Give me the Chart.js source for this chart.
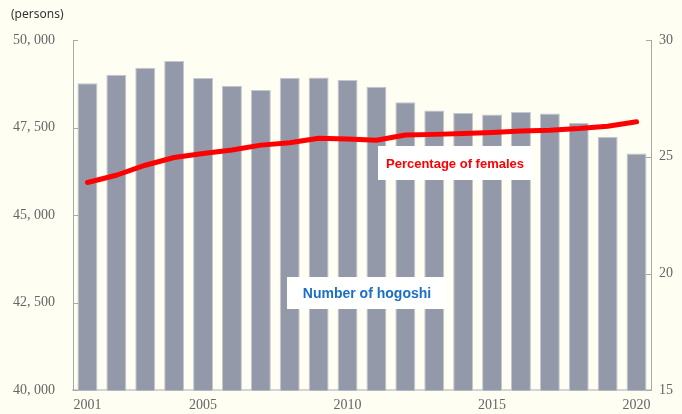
<!DOCTYPE html>
<html><head><meta charset="utf-8">
<script src="https://cdn.jsdelivr.net/npm/chart.js@4/dist/chart.umd.min.js"></script>
<style>
html,body{margin:0;padding:0;background:#fefef3;}
#wrap{position:relative;width:682px;height:414px;}
canvas{display:block;}
</style></head>
<body><div id="wrap"><canvas id="c" width="682" height="414"></canvas></div>
<script>
const years = ["2001","2002","2003","2004","2005","2006","2007","2008","2009","2010","2011","2012","2013","2014","2015","2016","2017","2018","2019","2020"];
const hogoshiCount = [48763,49009,49209,49400,48914,48695,48571,48924,48933,48857,48667,48220,47991,47914,47876,47943,47905,47638,47238,46762];
const femalePercent = [23.9,24.21,24.64,24.97,25.14,25.29,25.5,25.6,25.79,25.76,25.71,25.93,25.96,26.0,26.04,26.1,26.14,26.21,26.31,26.5];
const shownYearLabels = ["2001","2005","2010","2015","2020"];
const leftTicks = [40000,42500,45000,47500,50000];
const rightTicks = [15,20,25,30];

const tickFont = {family:"'Liberation Serif','DejaVu Serif',serif", size:14};
const yTickFont = {family:"'Liberation Serif','DejaVu Serif',serif", size:14, lineHeight:0.8};
const tickColor = "#666666";
const axisColor = "#a8a8a8";

const innerTicks = {
  id:'innerTicks',
  afterDraw(chart){
    const ctx = chart.ctx;
    const yl = chart.scales.y, yr = chart.scales.y2, ca = chart.chartArea;
    ctx.save();
    ctx.strokeStyle = axisColor; ctx.lineWidth = 1;
    leftTicks.forEach(v=>{const p=Math.round(yl.getPixelForValue(v))+0.5;ctx.beginPath();ctx.moveTo(ca.left,p);ctx.lineTo(ca.left+5,p);ctx.stroke();});
    rightTicks.forEach(v=>{const p=Math.round(yr.getPixelForValue(v))+0.5;ctx.beginPath();ctx.moveTo(ca.right-5,p);ctx.lineTo(ca.right,p);ctx.stroke();});
    ctx.fillStyle="#333";ctx.font="12px 'Noto Sans','Liberation Sans',sans-serif";ctx.textBaseline="middle";ctx.textAlign="left";
    ctx.fillText("(persons)",11,15);
    function box(text,color,x,y,w,h,size){
      ctx.fillStyle="#ffffff";ctx.fillRect(x,y,w,h);
      ctx.fillStyle=color;ctx.font="bold "+size+"px 'Liberation Sans','Noto Sans',sans-serif";
      ctx.textAlign="center";ctx.textBaseline="middle";
      ctx.fillText(text,x+w/2,y+h/2+1,w-14);
    }
    box("Percentage of females","#ff0000",378,146,154,34,13);
    box("Number of hogoshi","#1a6fc4",287,277,160,32,14);
    ctx.restore();
  }
};

new Chart(document.getElementById('c'),{
  data:{
    labels:years,
    datasets:[
      {type:'line',label:'Percentage of females',data:femalePercent,yAxisID:'y2',borderColor:'#ff0000',borderWidth:5,pointRadius:0,tension:0,borderCapStyle:'round',borderJoinStyle:'round',order:0},
      {type:'bar',label:'Number of hogoshi',data:hogoshiCount,yAxisID:'y',backgroundColor:'#9499aa',borderColor:'#c3c7d0',borderWidth:1,borderSkipped:'bottom',categoryPercentage:1,barPercentage:0.69,order:1}
    ]
  },
  options:{
    responsive:false,animation:false,
    layout:{padding:{top:40,left:0,right:0,bottom:0}},
    plugins:{legend:{display:false},tooltip:{enabled:false}},
    scales:{
      x:{grid:{display:true,drawOnChartArea:false,drawTicks:false},border:{display:true,color:'#d4d4d4',width:2},
         ticks:{autoSkip:false,maxRotation:0,padding:7,color:tickColor,font:tickFont,
           callback:function(v){const l=this.getLabelForValue(v);return shownYearLabels.includes(l)?l:'';}},
         afterFit:s=>{s.height=23;}},
      y:{position:'left',min:40000,max:50000,grid:{drawOnChartArea:false,drawTicks:false},border:{display:true,color:axisColor},
         afterBuildTicks:s=>{s.ticks=leftTicks.map(v=>({value:v}));},
         ticks:{padding:18,color:tickColor,font:yTickFont,callback:v=>Math.floor(v/1000)+", "+String(v%1000).padStart(3,'0')},
         afterFit:s=>{s.width=73;}},
      y2:{position:'right',min:15,max:30,grid:{drawOnChartArea:false,drawTicks:false},border:{display:true,color:axisColor},
         afterBuildTicks:s=>{s.ticks=rightTicks.map(v=>({value:v}));},
         ticks:{padding:8,color:tickColor,font:yTickFont},
         afterFit:s=>{s.width=31;}}
    }
  },
  plugins:[innerTicks]
});
</script></body></html>
